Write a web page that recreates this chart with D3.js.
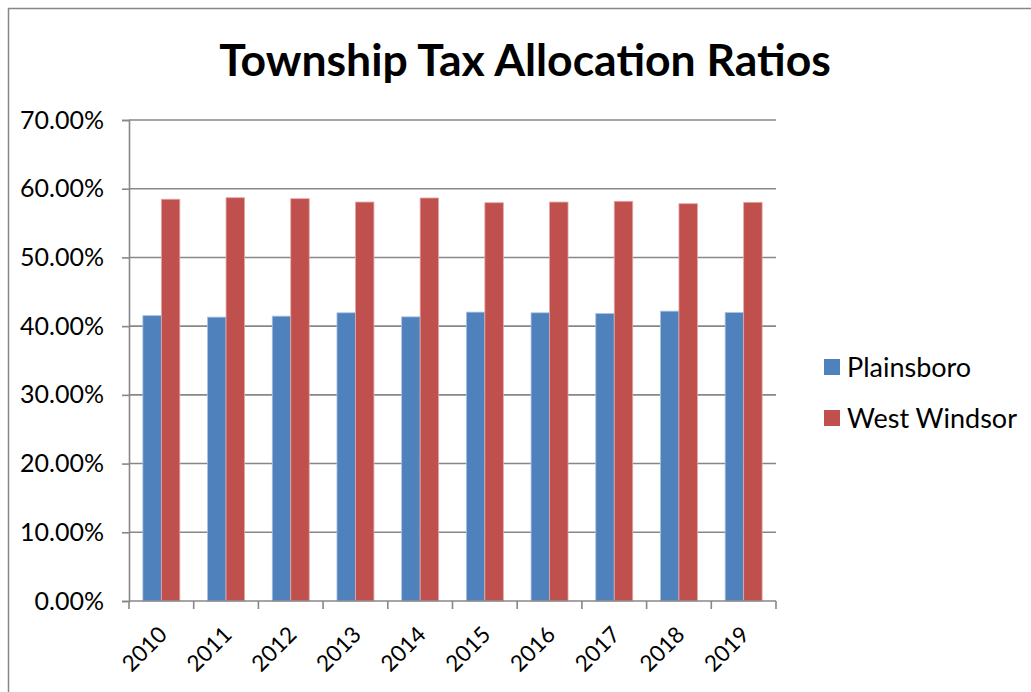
<!DOCTYPE html>
<html>
<head>
<meta charset="utf-8">
<script src="https://cdn.jsdelivr.net/npm/d3@7"></script>
<style>
  html, body { margin: 0; padding: 0; background: #fff; }
  svg { display: block; }
  text { font-family: Lato, "Open Sans", sans-serif; fill: #000; }
</style>
</head>
<body>
<svg id="chart" width="1031" height="692"></svg>
<script>
// Share of joint tax levy allocated to each township, by year
const years = ["2010", "2011", "2012", "2013", "2014", "2015", "2016", "2017", "2018", "2019"];
const seriesNames = ["Plainsboro", "West Windsor"];
const plainsboro = [0.4153, 0.4131, 0.4145, 0.4194, 0.4135, 0.4204, 0.4194, 0.4183, 0.4218, 0.4198];
const westWindsor = [0.5847, 0.5869, 0.5855, 0.5806, 0.5865, 0.5796, 0.5806, 0.5817, 0.5782, 0.5802];
const yTicks = [0, 0.1, 0.2, 0.3, 0.4, 0.5, 0.6, 0.7];
const colors = ["#4F81BD", "#C0504D"];
const edgeColors = ["#A9C1E0", "#E2A9A7"];

const svg = d3.select("#chart");
const plot = { left: 129, right: 776, top: 120, bottom: 601 };
const gridColor = "#878787";

// Outer chart frame
svg.append("rect")
  .attr("x", 8.5).attr("y", 8.5)
  .attr("width", 1040).attr("height", 700)
  .attr("fill", "none").attr("stroke", gridColor).attr("stroke-width", 1.5);

// Title
svg.append("text")
  .attr("x", 525).attr("y", 76)
  .attr("text-anchor", "middle")
  .attr("font-size", 44.5).attr("font-weight", "bold")
  .text("Township Tax Allocation Ratios");

const y = d3.scaleLinear().domain([0, 0.7]).range([plot.bottom, plot.top]);
const x = d3.scaleBand().domain(years).range([plot.left, plot.right]).paddingInner(0).paddingOuter(0);
const xs = d3.scaleBand().domain(seriesNames).range([0, x.bandwidth()]).paddingInner(0).paddingOuter(0.75);

// Horizontal gridlines
svg.append("g").selectAll("line")
  .data(yTicks.filter(d => d > 0))
  .join("line")
  .attr("x1", plot.left).attr("x2", plot.right)
  .attr("y1", d => y(d)).attr("y2", d => y(d))
  .attr("stroke", gridColor).attr("stroke-width", 1.6);

// Y axis
const yAxis = d3.axisLeft(y).tickValues(yTicks).tickSize(7).tickPadding(18)
  .tickFormat(d => (d * 100).toFixed(2) + "%");
const gy = svg.append("g").attr("transform", `translate(${plot.left},0)`).call(yAxis);
gy.select(".domain").attr("stroke", gridColor).attr("stroke-width", 1.6);
gy.selectAll(".tick line").attr("stroke", gridColor).attr("stroke-width", 1.6);
gy.selectAll(".tick text").attr("font-size", 25).attr("font-family", "Lato, sans-serif").attr("fill", "#000");

// Bars
const data = years.map((yr, i) => ({ year: yr, values: [plainsboro[i], westWindsor[i]] }));
const groups = svg.append("g").selectAll("g")
  .data(data)
  .join("g")
  .attr("transform", d => `translate(${x(d.year)},0)`);
groups.selectAll("rect")
  .data(d => d.values.map((v, k) => ({ name: seriesNames[k], value: v, k })))
  .join("rect")
  .attr("x", d => xs(d.name))
  .attr("width", xs.bandwidth())
  .attr("y", d => y(d.value))
  .attr("height", d => y(0) - y(d.value))
  .attr("fill", d => colors[d.k])
  .attr("stroke", d => edgeColors[d.k])
  .attr("stroke-width", 0.8);

// X axis with ticks at category boundaries
const gx = svg.append("g").attr("transform", `translate(0,${plot.bottom})`);
gx.append("line")
  .attr("x1", plot.left).attr("x2", plot.right)
  .attr("stroke", gridColor).attr("stroke-width", 1.6);
const boundaries = years.map(d => x(d)).concat([plot.right]);
gx.selectAll("line.tick")
  .data(boundaries)
  .join("line")
  .attr("class", "tick")
  .attr("x1", d => d).attr("x2", d => d)
  .attr("y1", 0).attr("y2", 8)
  .attr("stroke", gridColor).attr("stroke-width", 1.6);
gx.selectAll("text")
  .data(years)
  .join("text")
  .attr("transform", d => `translate(${x(d) + x.bandwidth() / 2 - 4},${24}) rotate(-45)`)
  .attr("text-anchor", "end")
  .attr("dy", "0.7em")
  .attr("font-size", 22.5)
  .text(d => d);

// Legend
const legend = svg.append("g").attr("transform", "translate(824,0)");
const legendY = [367, 418];
seriesNames.forEach((name, k) => {
  legend.append("rect")
    .attr("x", 0).attr("y", legendY[k] - 8)
    .attr("width", 16).attr("height", 16)
    .attr("fill", colors[k]);
  legend.append("text")
    .attr("x", 23).attr("y", legendY[k])
    .attr("dy", "0.36em")
    .attr("font-size", 27)
    .text(name);
});
</script>
</body>
</html>
